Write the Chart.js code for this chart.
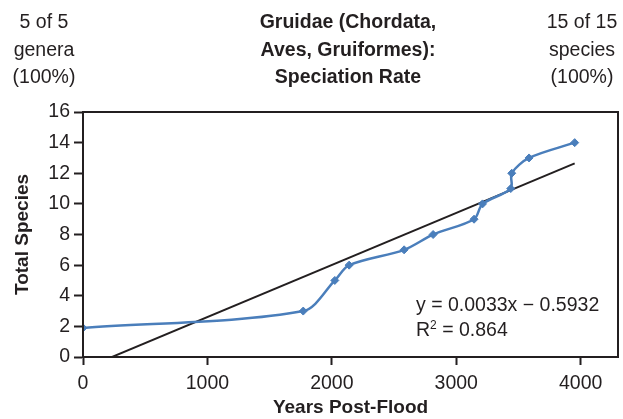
<!DOCTYPE html>
<html>
<head>
<meta charset="utf-8">
<script src="https://cdn.jsdelivr.net/npm/chart.js@4"></script>
<style>
  html, body { margin: 0; padding: 0; background: #fff; }
  #wrap { position: relative; width: 623px; height: 419px; font-family: "Liberation Sans", Arial, sans-serif; color: #231f20; }
  canvas { position: absolute; left: 0; top: 0; }
  .hdr { position: absolute; top: 8px; font-size: 19.5px; line-height: 27.5px; text-align: center; white-space: nowrap; }
  .eq { position: absolute; font-size: 19.5px; line-height: 22px; white-space: nowrap; }
</style>
</head>
<body>
<div id="wrap">
  <canvas id="c" width="623" height="419"></canvas>
  <div class="hdr" style="left:0px; width:88px;">5 of 5<br>genera<br>(100%)</div>
  <div class="hdr" style="left:228px; width:240px; font-weight:bold;">Gruidae (Chordata,<br>Aves, Gruiformes):<br>Speciation Rate</div>
  <div class="hdr" style="left:537px; width:90px;">15 of 15<br>species<br>(100%)</div>
  <div class="eq" style="left:416px; top:293px;">y = 0.0033x − 0.5932</div>
  <div class="eq" style="left:416px; top:318px;">R<sup style="font-size:12px;line-height:0;">2</sup> = 0.864</div>
</div>
<script>
// Data
const years = [0, 1770, 2024, 2139, 2581, 2814, 3143, 3211, 3438, 3446, 3585, 3952];
const totalSpecies = [1.9, 3, 5, 6, 7, 8, 9, 10, 11, 12, 13, 14];
const trendSlope = [0.0034];
const trendIntercept = [-0.79];
const xTicks = [0, 1000, 2000, 3000, 4000];
const yTicks = [0, 2, 4, 6, 8, 10, 12, 14, 16];

const ink = '#231f20';
const blue = '#4a7ebb';

const xMin = Math.min(...years), xMax = Math.max(...years);
const trendPts = [xMin, xMax].map(x => ({ x: x, y: trendSlope[0] * x + trendIntercept[0] }));
const seriesPts = years.map((x, i) => ({ x: x, y: totalSpecies[i] }));

const frame = {
  id: 'frame',
  afterDatasetsDraw(chart) {
    const { ctx, chartArea: a } = chart;
    ctx.save();
    ctx.strokeStyle = ink;
    ctx.lineWidth = 2;
    ctx.strokeRect(a.left, a.top, a.right - a.left, a.bottom - a.top);
    ctx.restore();
  }
};

const tickFont = { family: 'Liberation Sans', size: 19.5 };
const titleFont = { family: 'Liberation Sans', size: 19, weight: 'bold', lineHeight: 1 };

new Chart(document.getElementById('c'), {
  type: 'scatter',
  data: {
    datasets: [
      {
        label: 'Trend',
        data: trendPts,
        showLine: true,
        borderColor: ink,
        borderWidth: 2,
        pointRadius: 0,
        tension: 0,
        order: 2
      },
      {
        label: 'Total Species',
        data: seriesPts,
        showLine: true,
        borderColor: blue,
        backgroundColor: blue,
        borderWidth: 2.5,
        pointStyle: 'rectRot',
        pointRadius: 4,
        pointBorderWidth: 1,
        tension: 0.3,
        order: 1
      }
    ]
  },
  options: {
    responsive: false,
    animation: false,
    devicePixelRatio: 1,
    layout: { padding: { top: 112, right: 1, left: 0, bottom: 0 } },
    plugins: { legend: { display: false }, tooltip: { enabled: false }, title: { display: false } },
    scales: {
      x: {
        type: 'linear',
        min: 0,
        max: 4300,
        afterBuildTicks(scale) { scale.ticks = xTicks.map(v => ({ value: v })); },
        afterFit(scale) { scale.height = 62; },
        ticks: { color: ink, font: tickFont, padding: 7, maxRotation: 0, callback: v => String(v) },
        grid: { drawOnChartArea: false, tickLength: 8, tickColor: ink, tickWidth: 2 },
        border: { color: ink, width: 2 },
        title: { display: true, text: 'Years Post-Flood', color: ink, font: titleFont, padding: { top: 0, bottom: 2 } }
      },
      y: {
        type: 'linear',
        min: 0,
        max: 16,
        afterBuildTicks(scale) { scale.ticks = yTicks.map(v => ({ value: v })); },
        afterFit(scale) { scale.width = 83; },
        ticks: { color: ink, font: tickFont, padding: 4, callback: v => String(v) },
        grid: { drawOnChartArea: false, tickLength: 9, tickColor: ink, tickWidth: 2 },
        border: { color: ink, width: 2 },
        title: { display: true, text: 'Total Species', color: ink, font: titleFont, padding: { top: 13, bottom: 0 } }
      }
    }
  },
  plugins: [frame]
});
</script>
</body>
</html>
